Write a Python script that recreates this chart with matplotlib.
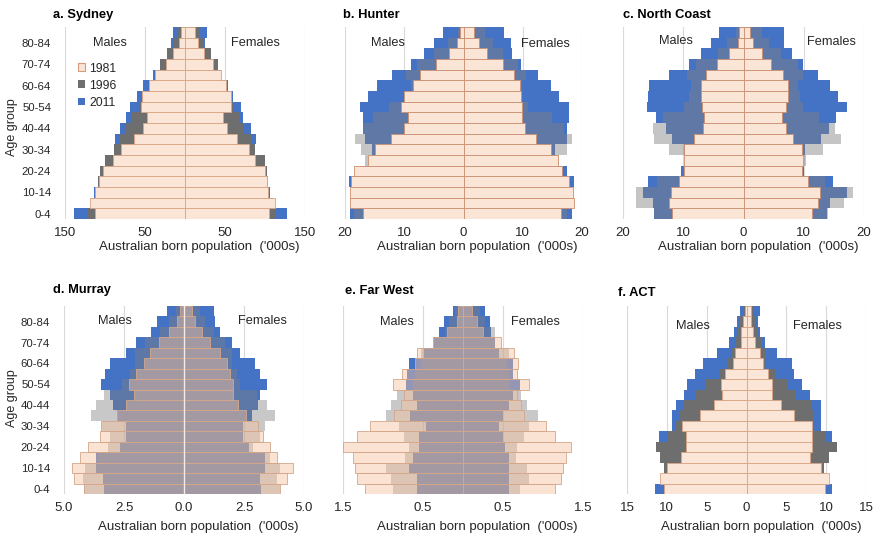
import matplotlib
matplotlib.use('Agg')
import matplotlib.pyplot as plt
from matplotlib.patches import Patch
import numpy as np

plt.rcParams['font.family'] = ['Liberation Sans', 'DejaVu Sans']

age_groups = ['0-4', '5-9', '10-14', '15-19', '20-24', '25-29', '30-34', '35-39', '40-44',
              '45-49', '50-54', '55-59', '60-64', '65-69', '70-74', '75-79', '80-84', '85+']
years = ['1981', '1996', '2011']

# ---- a. Sydney ('000s) ----
syd_m_1981 = [113, 119, 112, 107, 102, 90, 80, 64, 52, 47, 55, 54, 45, 38, 24, 15, 8, 5]
syd_m_1996 = [121, 115, 110, 109, 106, 100, 89, 83, 74, 67, 57, 54, 44, 38, 31, 22, 14, 9]
syd_m_2011 = [139, 117, 114, 105, 100, 98, 88, 87, 81, 74, 69, 60, 52, 40, 30, 21, 18, 15]
syd_f_1981 = [105, 112, 104, 102, 100, 88, 80, 65, 53, 48, 57, 57, 51, 45, 35, 24, 16, 12]
syd_f_1996 = [112, 108, 102, 104, 103, 100, 87, 82, 73, 69, 60, 56, 50, 45, 41, 32, 23, 18]
syd_f_2011 = [128, 110, 106, 103, 100, 98, 86, 89, 82, 73, 70, 60, 54, 45, 40, 31, 25, 28]

# ---- b. Hunter ----
hun_m_1981 = [17.0, 19.2, 19.2, 19.0, 18.4, 16.2, 14.9, 12.3, 10.1, 9.3, 10.5, 10.0, 8.6, 7.3, 4.6, 2.5, 1.1, 0.6]
hun_m_1996 = [18.5, 18.5, 18.8, 18.0, 17.5, 16.6, 17.3, 18.3, 17.0, 15.3, 12.5, 9.8, 8.9, 9.7, 7.8, 4.9, 2.7, 1.0]
hun_m_2011 = [19.2, 18.0, 18.5, 19.3, 17.0, 15.5, 15.5, 16.7, 17.0, 17.0, 17.5, 16.1, 14.6, 12.0, 8.9, 6.6, 5.0, 3.5]
hun_f_1981 = [16.4, 18.6, 18.5, 17.8, 16.6, 15.9, 14.7, 12.2, 10.3, 9.9, 9.9, 9.7, 9.5, 8.5, 6.6, 4.0, 2.6, 1.8]
hun_f_1996 = [17.5, 17.8, 18.0, 17.0, 16.4, 16.2, 17.4, 18.3, 16.9, 15.0, 10.9, 9.6, 9.9, 10.5, 9.2, 6.6, 4.9, 3.6]
hun_f_2011 = [18.3, 17.5, 17.8, 18.7, 17.4, 15.3, 15.5, 17.5, 17.5, 17.8, 17.8, 16.2, 14.7, 12.5, 9.7, 8.2, 8.1, 6.9]

# ---- c. North Coast ----
nc_m_1981 = [11.8, 12.3, 12.1, 10.7, 9.9, 9.9, 9.9, 8.2, 6.8, 6.5, 6.9, 7.1, 7.1, 6.2, 4.4, 2.4, 0.9, 0.7]
nc_m_1996 = [14.9, 17.9, 17.9, 14.3, 10.0, 9.9, 12.3, 14.8, 15.1, 13.4, 9.8, 9.0, 8.7, 9.4, 7.9, 4.3, 2.8, 1.3]
nc_m_2011 = [14.9, 15.1, 16.7, 15.9, 10.4, 9.5, 9.9, 11.8, 12.8, 14.5, 16.0, 15.9, 15.7, 12.3, 9.1, 7.1, 5.4, 4.0]
nc_f_1981 = [11.3, 12.4, 12.7, 10.7, 9.7, 9.9, 9.7, 8.2, 7.1, 6.4, 7.1, 7.4, 7.4, 6.6, 4.6, 3.1, 1.6, 1.1]
nc_f_1996 = [14.1, 16.6, 18.2, 13.5, 9.8, 10.3, 13.2, 16.1, 15.2, 12.6, 9.9, 9.3, 9.1, 9.9, 9.1, 6.3, 4.3, 3.0]
nc_f_2011 = [13.9, 14.4, 17.1, 14.9, 10.0, 9.7, 10.2, 12.9, 14.2, 15.4, 17.1, 15.7, 14.3, 12.4, 9.9, 8.1, 6.8, 6.8]

# ---- d. Murray ----
mur_m_1981 = [4.18, 4.6, 4.65, 4.35, 4.0, 3.51, 3.44, 2.78, 2.42, 2.09, 2.28, 2.0, 1.67, 1.42, 1.03, 0.61, 0.31, 0.17]
mur_m_1996 = [4.15, 4.2, 4.14, 3.6, 3.16, 3.09, 3.4, 3.86, 3.65, 3.34, 2.6, 2.26, 2.05, 2.05, 1.63, 1.0, 0.61, 0.35]
mur_m_2011 = [3.34, 3.37, 3.65, 3.65, 2.65, 2.42, 2.42, 2.8, 2.95, 3.09, 3.44, 3.3, 3.09, 2.42, 2.0, 1.39, 1.14, 0.72]
mur_f_1981 = [4.0, 4.29, 4.54, 3.87, 3.59, 3.31, 3.1, 2.59, 2.27, 2.06, 2.06, 1.92, 1.78, 1.5, 1.09, 0.74, 0.46, 0.32]
mur_f_1996 = [4.0, 3.87, 4.0, 3.6, 2.87, 3.15, 3.38, 3.8, 3.45, 3.04, 2.34, 2.2, 1.99, 1.99, 1.71, 1.23, 0.88, 0.67]
mur_f_2011 = [3.2, 3.18, 3.38, 3.38, 2.69, 2.45, 2.45, 2.83, 3.1, 3.18, 3.45, 3.18, 2.97, 2.34, 1.99, 1.5, 1.3, 1.23]

# ---- e. Far West ----
fw_m_1981 = [1.23, 1.32, 1.35, 1.37, 1.5, 1.32, 1.16, 0.86, 0.77, 0.74, 0.88, 0.76, 0.6, 0.58, 0.38, 0.2, 0.08, 0.06]
fw_m_1996 = [0.88, 0.9, 0.96, 0.73, 0.68, 0.74, 0.8, 0.96, 0.9, 0.83, 0.63, 0.6, 0.52, 0.53, 0.37, 0.22, 0.17, 0.1]
fw_m_2011 = [0.58, 0.58, 0.67, 0.63, 0.55, 0.55, 0.46, 0.66, 0.58, 0.63, 0.71, 0.7, 0.67, 0.49, 0.36, 0.3, 0.24, 0.13]
fw_f_1981 = [1.15, 1.23, 1.25, 1.29, 1.35, 1.15, 1.04, 0.76, 0.72, 0.67, 0.82, 0.68, 0.69, 0.64, 0.48, 0.25, 0.17, 0.11]
fw_f_1996 = [0.71, 0.83, 0.8, 0.66, 0.67, 0.76, 0.83, 0.94, 0.8, 0.73, 0.59, 0.58, 0.55, 0.58, 0.4, 0.4, 0.275, 0.21]
fw_f_2011 = [0.58, 0.58, 0.58, 0.58, 0.53, 0.5, 0.45, 0.5, 0.58, 0.63, 0.71, 0.62, 0.62, 0.45, 0.4, 0.35, 0.34, 0.275]

# ---- f. ACT ----
act_m_1981 = [10.3, 10.8, 10.0, 8.2, 7.6, 7.6, 8.1, 5.8, 4.1, 3.1, 3.2, 2.7, 1.7, 1.5, 0.65, 0.65, 0.4, 0.2]
act_m_1996 = [9.9, 10.4, 10.3, 10.8, 11.4, 9.9, 8.9, 8.4, 8.0, 6.5, 5.2, 3.4, 2.3, 1.9, 1.4, 1.05, 0.85, 0.4]
act_m_2011 = [11.5, 10.0, 9.7, 9.9, 10.5, 11.0, 9.3, 9.3, 8.9, 7.8, 7.5, 6.5, 5.5, 3.7, 2.25, 1.55, 1.15, 0.85]
act_f_1981 = [9.9, 10.4, 9.3, 8.0, 8.2, 8.2, 8.2, 5.9, 4.35, 3.2, 3.2, 2.75, 2.1, 1.7, 1.05, 0.85, 0.6, 0.55]
act_f_1996 = [9.6, 10.0, 9.7, 10.4, 11.3, 9.9, 8.4, 8.4, 8.2, 6.1, 5.1, 3.6, 2.5, 2.3, 1.9, 1.5, 1.15, 1.0]
act_f_2011 = [10.7, 9.7, 9.2, 9.5, 10.5, 10.7, 9.3, 9.4, 9.3, 8.0, 7.0, 5.9, 5.7, 3.8, 2.3, 1.7, 1.5, 1.7]

W, H = 876, 540
fig = plt.figure(figsize=(W / 100, H / 100), dpi=100)

BLUE = '#4472C4'
STYLES = {
    'opaque': dict(gray=('#6E6E6E', 1.0), peach=('#FBE5D6', 1.0), edge='#D8A585'),
    'semi': dict(gray=('#808080', 0.45), peach=('#FBE5D6', 1.0), edge='#CC9070'),
    'trans': dict(gray=('#808080', 0.43), peach=('#F8C3A0', 0.45), edge='#D4A68A'),
}

panels = [
    dict(title='a. Sydney', m=(syd_m_1981, syd_m_1996, syd_m_2011), f=(syd_f_1981, syd_f_1996, syd_f_2011),
         lim=150, ticks=[-150, -50, 50, 150], labels=['150', '50', '50', '150'], style='opaque',
         box=(65, 305, 27, 219), tpos=(53, 15), mpos=(110, 43), fpos=(255, 43), ylab=True, legend=True),
    dict(title='b. Hunter', m=(hun_m_1981, hun_m_1996, hun_m_2011), f=(hun_f_1981, hun_f_1996, hun_f_2011),
         lim=20, ticks=[-20, -10, 0, 10, 20], labels=['20', '10', '0', '10', '20'], style='semi',
         box=(345, 582, 27, 219), tpos=(343, 15), mpos=(388, 43), fpos=(545, 44), ylab=False, legend=False),
    dict(title='c. North Coast', m=(nc_m_1981, nc_m_1996, nc_m_2011), f=(nc_f_1981, nc_f_1996, nc_f_2011),
         lim=20, ticks=[-20, -10, 0, 10, 20], labels=['20', '10', '0', '10', '20'], style='semi',
         box=(623, 864, 27, 219), tpos=(623, 15), mpos=(676, 41), fpos=(831, 42), ylab=False, legend=False),
    dict(title='d. Murray', m=(mur_m_1981, mur_m_1996, mur_m_2011), f=(mur_f_1981, mur_f_1996, mur_f_2011),
         lim=5, ticks=[-5, -2.5, 0, 2.5, 5], labels=['5.0', '2.5', '0.0', '2.5', '5.0'], style='trans',
         box=(64, 304, 306, 494), tpos=(53, 290), mpos=(115, 321), fpos=(262, 321), ylab=True, legend=False),
    dict(title='e. Far West', m=(fw_m_1981, fw_m_1996, fw_m_2011), f=(fw_f_1981, fw_f_1996, fw_f_2011),
         lim=1.5, ticks=[-1.5, -0.5, 0.5, 1.5], labels=['1.5', '0.5', '0.5', '1.5'], style='trans',
         box=(343, 583, 306, 494), tpos=(345, 291), mpos=(397, 322), fpos=(535, 322), ylab=False, legend=False),
    dict(title='f. ACT', m=(act_m_1981, act_m_1996, act_m_2011), f=(act_f_1981, act_f_1996, act_f_2011),
         lim=15, ticks=[-15, -10, -5, 0, 5, 10, 15], labels=['15', '10', '5', '0', '5', '10', '15'], style='opaque',
         box=(627, 866, 306, 494), tpos=(618, 293), mpos=(693, 326), fpos=(817, 326), ylab=False, legend=False),
]

TXT = '#262626'
y = np.arange(len(age_groups))

for p in panels:
    l, r, t, b = p['box']
    ax = fig.add_axes([l / W, 1 - b / H, (r - l) / W, (b - t) / H])
    st = STYLES[p['style']]
    m1981, m1996, m2011 = [np.array(v) for v in p['m']]
    f1981, f1996, f2011 = [np.array(v) for v in p['f']]
    # 2011 (back)
    ax.barh(y, -m2011, height=1.0, color=BLUE, linewidth=0, zorder=2)
    ax.barh(y, f2011, height=1.0, color=BLUE, linewidth=0, zorder=2)
    # 1996
    gc, ga = st['gray']
    ax.barh(y, -m1996, height=1.0, color=gc, alpha=ga, linewidth=0, zorder=3)
    ax.barh(y, f1996, height=1.0, color=gc, alpha=ga, linewidth=0, zorder=3)
    # 1981 (front)
    pc, pa = st['peach']
    fc = matplotlib.colors.to_rgba(pc, pa)
    ax.barh(y, -m1981, height=1.0, facecolor=fc, edgecolor=st['edge'], linewidth=0.6, zorder=4)
    ax.barh(y, f1981, height=1.0, facecolor=fc, edgecolor=st['edge'], linewidth=0.6, zorder=4)
    if p['title'] == 'd. Murray':
        ax.axvline(0, color='white', lw=1.0, alpha=0.8, zorder=5)

    ax.set_xlim(-p['lim'], p['lim'])
    ax.set_ylim(-0.5, len(age_groups) - 0.5)
    ax.set_xticks(p['ticks'], p['labels'])
    ax.grid(axis='x', color='#D9D9D9', lw=0.8, zorder=0)
    ax.set_axisbelow(True)
    for s in ax.spines.values():
        s.set_visible(False)
    ax.tick_params(axis='x', length=0, pad=6, labelsize=9.5, labelcolor=TXT)
    if p['ylab']:
        ax.set_yticks(y[::2], age_groups[::2])
        ax.tick_params(axis='y', length=0, pad=10, labelsize=8.2, labelcolor=TXT)
    else:
        ax.set_yticks([])
    row1 = t < 100
    ax.set_xlabel("Australian born population  ('000s)", fontsize=9.5, color=TXT)
    ax.xaxis.set_label_coords(0.56, -0.115 if row1 else -0.145)
    fig.text(p['tpos'][0] / W, 1 - p['tpos'][1] / H, p['title'], fontsize=9.3, fontweight='bold',
             ha='left', va='center', color='black')
    fig.text(p['mpos'][0] / W, 1 - p['mpos'][1] / H, 'Males', fontsize=9.2, ha='center', va='center', color=TXT)
    fig.text(p['fpos'][0] / W, 1 - p['fpos'][1] / H, 'Females', fontsize=9.2, ha='center', va='center', color=TXT)
    if p['legend']:
        handles = [Patch(facecolor='#FBE5D6', edgecolor='#D59C7C', linewidth=0.8),
                   Patch(facecolor='#6E6E6E', edgecolor='none'),
                   Patch(facecolor=BLUE, edgecolor='none')]
        ax.legend(handles, years, loc='upper left', bbox_to_anchor=(0.055, 0.815), frameon=False,
                  fontsize=8.7, handlelength=0.6, handleheight=0.6, handletextpad=0.3,
                  labelspacing=0.42, borderpad=0, borderaxespad=0, labelcolor=TXT)

fig.text(12 / W, 1 - 127 / H, 'Age group', rotation=90, ha='center', va='center', fontsize=9, color=TXT)
fig.text(12 / W, 1 - 398 / H, 'Age group', rotation=90, ha='center', va='center', fontsize=9, color=TXT)

fig.savefig('out.png', dpi=100)
